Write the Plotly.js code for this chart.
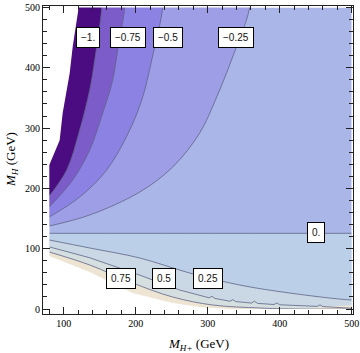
<!DOCTYPE html>
<html><head><meta charset="utf-8">
<script src="https://cdn.plot.ly/plotly-3.0.1.min.js"></script>
<style>html,body{margin:0;padding:0;background:#fff;}#chart{width:360px;height:353px;}</style>
</head><body><div id="chart"></div>
<script>
// data domain (M_H+ , M_H in GeV)
const X_MIN = 80, X_MAX = 500, Y_MIN = 0, Y_MAX = 500;

// contour lines: x = M_H+ , y = M_H
const clipTopX = [80, 94.4, 98.6, 108.3, 112.5, 120.8];
const clipTopY = [239, 280, 325, 391, 435, 500];
const cm100X = [80, 104.2, 122.2, 136.1, 143.1, 152.8];
const cm100Y = [187.4, 230.5, 296.8, 363.2, 412.9, 500];
const cm075X = [80, 112.5, 136.1, 154.2, 168.1, 175, 184.7];
const cm075Y = [169.2, 213.9, 263.7, 325, 379.8, 429.5, 500];
const cm050X = [80, 122.2, 159.7, 191.7, 209.7, 222.2, 237.5];
const cm050Y = [152.6, 185.7, 230.5, 296.8, 351.6, 412.9, 500];
const cm025X = [80, 136.1, 205.6, 251.4, 288.9, 312.5, 333, 358.3];
const cm025Y = [137.6, 155.9, 194, 235.5, 291.9, 351.6, 412.9, 500];
const c000X = [80, 500];
const c000Y = [125.5, 125.5];
const cp025X = [80, 136.1, 205.6, 275, 344.4, 413.9, 500];
const cp025Y = [114.4, 101.2, 84.6, 59.7, 39.8, 26.5, 14.9];
const cp050X = [80, 136, 206, 261, 302, 306, 310, 331, 335, 339, 361, 365, 369, 392, 396, 400, 452, 456, 460, 500];
const cp050Y = [103, 85, 56, 31.5, 18.5, 21, 17.5, 12.8, 15.5, 12.3, 9.8, 13, 9.3, 7.4, 10, 7, 4.3, 6.8, 4, 1.2];
const cp075X = [80, 136.1, 195.8, 251.4, 306.9, 372.2, 420.8];
const cp075Y = [94.5, 73, 43.1, 19.9, 6.6, 1.7, 0];
const clipBotX = [80, 136.1, 195.8, 251.4, 288.9, 330.6];
const clipBotY = [87.9, 61.4, 26.5, 10, 3.3, 0];

// contour labels
const labelText = ["\u22121.", "\u22120.75", "\u22120.5", "\u22120.25", "0.", "0.75", "0.5", "0.25"];
const labelX = [133.3, 189.6, 244.4, 338.9, 450, 179.2, 238.9, 300];
const labelY = [451, 451, 451, 451, 126.9, 49.8, 49.8, 49.8];

// band colours
const colDark = '#4a0c80', colM100 = '#7b5cc8', colM075 = '#8c82e4', colM050 = '#9d9ee6',
      colM025 = '#abb6e8', colP000 = '#bccfe8', colP025 = '#c9d8e4', colP050 = '#d6dfe0',
      colP075 = '#ede4d3';
const lineCol = 'rgba(95,100,135,0.8)';

const EXT = 30;
function topPoly(xs, ys) {
  return { x: xs.concat([xs[xs.length - 1], X_MIN - EXT, X_MIN - EXT]),
           y: ys.concat([Y_MAX + EXT, Y_MAX + EXT, ys[0]]) };
}
function botPoly(xs, ys) {
  return { x: xs.concat([X_MAX + EXT, X_MAX + EXT, X_MIN - EXT, X_MIN - EXT]),
           y: ys.concat([ys[ys.length - 1], Y_MIN - EXT, Y_MIN - EXT, ys[0]]) };
}
function fillTrace(p, color, shape) {
  return { type: 'scatter', mode: 'lines', x: p.x, y: p.y, fill: 'toself', fillcolor: color,
           line: { width: 0, shape: shape || 'spline' }, hoverinfo: 'skip', showlegend: false };
}
function lineTrace(xs, ys, top) {
  const x = xs.concat([top ? xs[xs.length - 1] : X_MAX + EXT]);
  const y = ys.concat([top ? Y_MAX + EXT : ys[ys.length - 1]]);
  return { type: 'scatter', mode: 'lines', x: x, y: y,
           line: { width: 1, color: lineCol, shape: 'spline' }, hoverinfo: 'skip', showlegend: false };
}

const traces = [];
traces.push(fillTrace({ x: [X_MIN, X_MAX, X_MAX, X_MIN], y: [Y_MIN, Y_MIN, Y_MAX, Y_MAX] }, colM025, 'linear'));
traces.push(fillTrace({ x: c000X.concat([X_MAX, X_MIN]), y: c000Y.concat([Y_MIN, Y_MIN]) }, colP000, 'linear'));
traces.push(fillTrace(botPoly(cp025X, cp025Y), colP025));
traces.push(fillTrace(botPoly(cp050X, cp050Y), colP050, 'linear'));
traces.push(fillTrace(botPoly(cp075X, cp075Y), colP075));
traces.push(fillTrace(botPoly(clipBotX, clipBotY), '#ffffff', 'linear'));
traces.push(fillTrace(topPoly(cm025X, cm025Y), colM050));
traces.push(fillTrace(topPoly(cm050X, cm050Y), colM075));
traces.push(fillTrace(topPoly(cm075X, cm075Y), colM100));
traces.push(fillTrace(topPoly(cm100X, cm100Y), colDark));
traces.push(fillTrace(topPoly(clipTopX, clipTopY), '#ffffff', 'linear'));

traces.push(lineTrace(cm100X, cm100Y, true));
traces.push(lineTrace(cm075X, cm075Y, true));
traces.push(lineTrace(cm050X, cm050Y, true));
traces.push(lineTrace(cm025X, cm025Y, true));
traces.push(lineTrace(c000X, c000Y, false));
traces.push(lineTrace(cp025X, cp025Y, false));
const l050 = lineTrace(cp050X, cp050Y, false); l050.line.shape = 'linear'; traces.push(l050);
traces.push(lineTrace(cp075X, cp075Y, false));

// white masks outside the data domain
const B = 200;
traces.push(fillTrace({ x: [X_MIN - B, X_MIN, X_MIN, X_MIN - B], y: [Y_MIN - B, Y_MIN - B, Y_MAX + B, Y_MAX + B] }, '#ffffff', 'linear'));
traces.push(fillTrace({ x: [X_MAX, X_MAX + B, X_MAX + B, X_MAX], y: [Y_MIN - B, Y_MIN - B, Y_MAX + B, Y_MAX + B] }, '#ffffff', 'linear'));
traces.push(fillTrace({ x: [X_MIN - B, X_MAX + B, X_MAX + B, X_MIN - B], y: [Y_MAX, Y_MAX, Y_MAX + B, Y_MAX + B] }, '#ffffff', 'linear'));
traces.push(fillTrace({ x: [X_MIN - B, X_MAX + B, X_MAX + B, X_MIN - B], y: [Y_MIN - B, Y_MIN - B, Y_MIN, Y_MIN] }, '#ffffff', 'linear'));

const tickFont = { family: 'Liberation Serif', size: 10, color: '#000' };
const axisCommon = {
  showgrid: false, zeroline: false, showline: true, linecolor: '#222', linewidth: 1,
  mirror: 'ticks', ticks: 'inside', ticklen: 7, tickwidth: 1, tickcolor: '#222',
  tickfont: tickFont, dtick: 100, tick0: 0,
  minor: { dtick: 20, tick0: 0, ticks: 'inside', ticklen: 4, tickwidth: 1, tickcolor: '#222' }
};

const annotations = labelText.map((t, i) => ({
  x: labelX[i], y: labelY[i], xref: 'x', yref: 'y', text: t, showarrow: false,
  bgcolor: '#ffffff', bordercolor: '#000', borderwidth: 1, borderpad: 4,
  font: { family: 'Liberation Sans', size: 10, color: '#111' }
}));
annotations.push({
  xref: 'paper', yref: 'paper', x: 0.5, y: 0, yanchor: 'middle', xanchor: 'center', yshift: -30,
  text: '<i>M</i><sub><i>H+</i></sub> (GeV)', showarrow: false,
  font: { family: 'Liberation Serif', size: 13, color: '#000' }
});
annotations.push({
  xref: 'paper', yref: 'paper', x: 0, y: 0.5, xanchor: 'center', yanchor: 'middle', xshift: -32,
  textangle: -90, text: '<i>M</i><sub><i>H</i></sub> (GeV)', showarrow: false,
  font: { family: 'Liberation Serif', size: 13, color: '#000' }
});

const layout = {
  width: 360, height: 353,
  margin: { l: 43, r: 7, t: 6, b: 39, pad: 0 },
  paper_bgcolor: '#ffffff', plot_bgcolor: '#ffffff',
  showlegend: false,
  xaxis: Object.assign({}, axisCommon, { range: [71.25, 501.8] }),
  yaxis: Object.assign({}, axisCommon, { range: [-8.3, 502.5] }),
  annotations: annotations
};

Plotly.newPlot('chart', traces, layout, { staticPlot: true, displayModeBar: false });
</script>
</body></html>
